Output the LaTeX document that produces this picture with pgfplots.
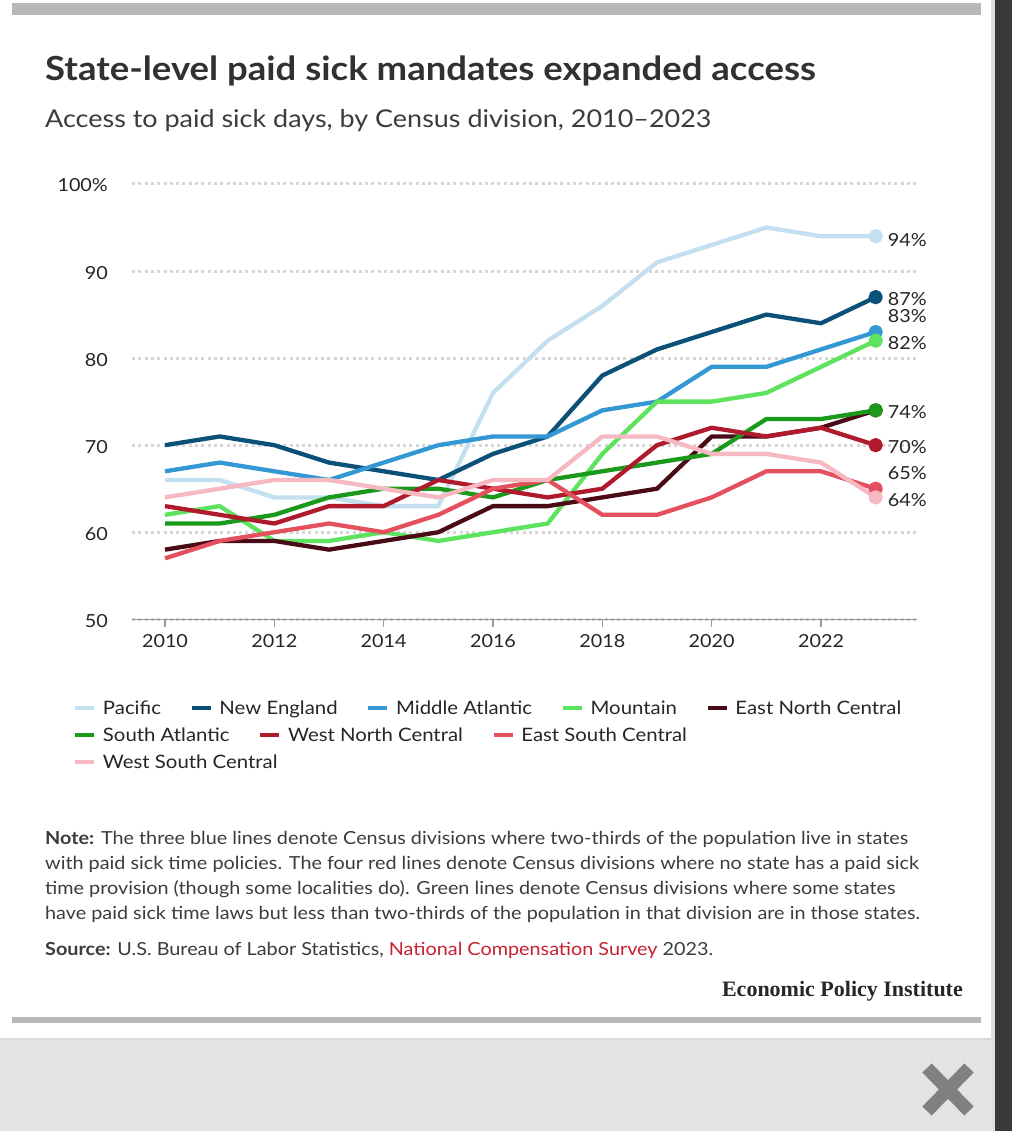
\documentclass[border=0pt]{standalone}
\usepackage{fontspec}
\setmainfont{Lato}[FakeStretch=1.1]
\newfontfamily\epifont{Liberation Serif}
\usepackage{pgfplots}
\pgfplotsset{compat=1.18}
\definecolor{cPac}{HTML}{C4DFF0}
\definecolor{cNE}{HTML}{0B5177}
\definecolor{cMA}{HTML}{3398D3}
\definecolor{cMtn}{HTML}{5DE35D}
\definecolor{cENC}{HTML}{4A0B16}
\definecolor{cSA}{HTML}{1A991A}
\definecolor{cWNC}{HTML}{AF1A2C}
\definecolor{cESC}{HTML}{E5505E}
\definecolor{cWSC}{HTML}{F6B8C1}
\definecolor{txt}{HTML}{262626}
\definecolor{epired}{HTML}{C8202F}
\definecolor{barg}{HTML}{B8B8B8}
\definecolor{footg}{HTML}{E4E3E4}
\newcommand{\lab}{\fontsize{18}{21}\selectfont}
\newcommand{\leglab}{\fontsize{18.5}{21}\selectfont}
\pgfplotsset{
  base/.style={
    scale only axis, width=785pt, height=435.3pt,
    at={(132pt,511.7pt)}, anchor=south west,
    xmin=2009.3963, xmax=2023.756, ymin=50, ymax=100,
  },
  leg/.style={
    legend columns=-1,
    legend style={at={#1}, anchor=west, draw=none, fill=none, inner sep=0pt, outer sep=0pt,
      font=\leglab, text=txt,
      nodes={inner sep=0pt},
      /tikz/column sep=0pt,
      /tikz/every odd column/.append style={column sep=6.5pt},
      /tikz/every even column/.append style={column sep=28.5pt}},
    legend image code/.code={\draw[##1, line width=4.5pt] (0pt,0pt) -- (19pt,0pt);},
  },
}
\begin{document}
\begin{tikzpicture}[x=1pt,y=1pt]
\path[use as bounding box] (0,0) rectangle (1012,1131);
\fill[white] (0,0) rectangle (1012,1131);
% frame decoration
\fill[footg] (0,0) rectangle (993,91);
\draw[black!15, line width=2pt] (0,92) -- (993,92);
\fill[barg] (12,1116) rectangle (981,1128);
\fill[barg] (12,108) rectangle (981,114);
\fill[black!12] (991,0) rectangle (995,1131);
\fill[black!78] (995,0) rectangle (1012,1131);
\draw[black!50, line width=13pt] (927,63) -- (969,20);
\draw[black!50, line width=13pt] (969,63) -- (927,20);
% titles
\node[anchor=base west, inner sep=0, text=txt!95] at (45,1050) {\fontsize{33.2}{37}\selectfont\bfseries State-level paid sick mandates expanded access};
\node[anchor=base west, inner sep=0, text=txt!90] at (45,1003) {\fontsize{24.5}{28}\selectfont Access to paid sick days, by Census division, 2010--2023};

\begin{axis}[base, leg={(-0.07516,-0.2038)},
  clip=false,
  axis x line=bottom, axis y line=left,
  y axis line style={draw=none},
  x axis line style={draw=black!40, line width=1.5pt, -},
  xtick={2010,2012,2014,2016,2018,2020,2022},
  xticklabels={2010,2012,2014,2016,2018,2020,2022},
  ytick={50,60,70,80,90,100},
  yticklabels={50,60,70,80,90,100\%},
  tick align=outside,
  major tick length=8pt,
  xtick style={draw=black!40, line width=1.2pt},
  ytick style={draw=none},
  ticklabel style={font=\lab, text=txt},
  xticklabel style={inner sep=0pt, anchor=north, yshift=-7pt},
  yticklabel style={inner sep=0pt, anchor=east, xshift=-16pt, yshift=-1.5pt},
  ymajorgrids,
  grid style={draw=black!16, line width=3pt, dash pattern=on 3pt off 3.3pt},
  every axis plot/.append style={line width=4.3pt, line join=round, mark=*, mark indices={14}, mark size=5pt, mark options={solid}},
]
\addplot[color=cPac] coordinates {(2010,66)(2011,66)(2012,64)(2013,64)(2014,63)(2015,63)(2016,76)(2017,82)(2018,86)(2019,91)(2020,93)(2021,95)(2022,94)(2023,94)};
\addlegendentry{Pacific}
\addplot[color=cNE] coordinates {(2010,70)(2011,71)(2012,70)(2013,68)(2014,67)(2015,66)(2016,69)(2017,71)(2018,78)(2019,81)(2020,83)(2021,85)(2022,84)(2023,87)};
\addlegendentry{New England}
\addplot[color=cMA] coordinates {(2010,67)(2011,68)(2012,67)(2013,66)(2014,68)(2015,70)(2016,71)(2017,71)(2018,74)(2019,75)(2020,79)(2021,79)(2022,81)(2023,83)};
\addlegendentry{Middle Atlantic}
\addplot[color=cMtn] coordinates {(2010,62)(2011,63)(2012,59)(2013,59)(2014,60)(2015,59)(2016,60)(2017,61)(2018,69)(2019,75)(2020,75)(2021,76)(2022,79)(2023,82)};
\addlegendentry{Mountain}
\addplot[color=cENC] coordinates {(2010,58)(2011,59)(2012,59)(2013,58)(2014,59)(2015,60)(2016,63)(2017,63)(2018,64)(2019,65)(2020,71)(2021,71)(2022,72)(2023,74)};
\addlegendentry{East North Central}
\addplot[color=cSA, forget plot] coordinates {(2010,61)(2011,61)(2012,62)(2013,64)(2014,65)(2015,65)(2016,64)(2017,66)(2018,67)(2019,68)(2020,69)(2021,73)(2022,73)(2023,74)};
\addplot[color=cWNC, forget plot] coordinates {(2010,63)(2011,62)(2012,61)(2013,63)(2014,63)(2015,66)(2016,65)(2017,64)(2018,65)(2019,70)(2020,72)(2021,71)(2022,72)(2023,70)};
\addplot[color=cESC, forget plot] coordinates {(2010,57)(2011,59)(2012,60)(2013,61)(2014,60)(2015,62)(2016,65)(2017,66)(2018,62)(2019,62)(2020,64)(2021,67)(2022,67)(2023,65)};
\addplot[color=cWSC, forget plot] coordinates {(2010,64)(2011,65)(2012,66)(2013,66)(2014,65)(2015,64)(2016,66)(2017,66)(2018,71)(2019,71)(2020,69)(2021,69)(2022,68)(2023,64)};
\begin{scope}[every node/.style={anchor=west, inner sep=0pt, font=\lab, text=txt}]
\node at (axis cs:2023.22,93.57) {94\%};
\node at (axis cs:2023.22,86.8) {87\%};
\node at (axis cs:2023.22,84.85) {83\%};
\node at (axis cs:2023.22,81.74) {82\%};
\node at (axis cs:2023.22,73.8) {74\%};
\node at (axis cs:2023.22,69.8) {70\%};
\node at (axis cs:2023.22,66.8) {65\%};
\node at (axis cs:2023.22,63.7) {64\%};
\end{scope}
\end{axis}

\begin{axis}[base, hide axis, leg={(-0.07516,-0.2658)}]
\addlegendimage{color=cSA}
\addlegendentry{South Atlantic}
\addlegendimage{color=cWNC}
\addlegendentry{West North Central}
\addlegendimage{color=cESC}
\addlegendentry{East South Central}
\end{axis}

\begin{axis}[base, hide axis, leg={(-0.07516,-0.3278)}]
\addlegendimage{color=cWSC}
\addlegendentry{West South Central}
\end{axis}

% notes
\begin{scope}[every node/.style={anchor=base west, inner sep=0pt, text=txt!90}]
\node at (45,286) {\lab\textbf{Note:} The three blue lines denote Census divisions where two-thirds of the population live in states};
\node at (45,261) {\lab with paid sick time policies. The four red lines denote Census divisions where no state has a paid sick};
\node at (45,236) {\lab time provision (though some localities do). Green lines denote Census divisions where some states};
\node at (45,211) {\lab have paid sick time laws but less than two-thirds of the population in that division are in those states.};
\node at (45,175) {\lab\textbf{Source:} U.S. Bureau of Labor Statistics, \textcolor{epired}{National Compensation Survey} 2023.};
\end{scope}
\node[anchor=base east, inner sep=0pt, text=txt] at (963,134) {\epifont\fontsize{22}{26}\selectfont\bfseries Economic Policy Institute};
\end{tikzpicture}
\end{document}
